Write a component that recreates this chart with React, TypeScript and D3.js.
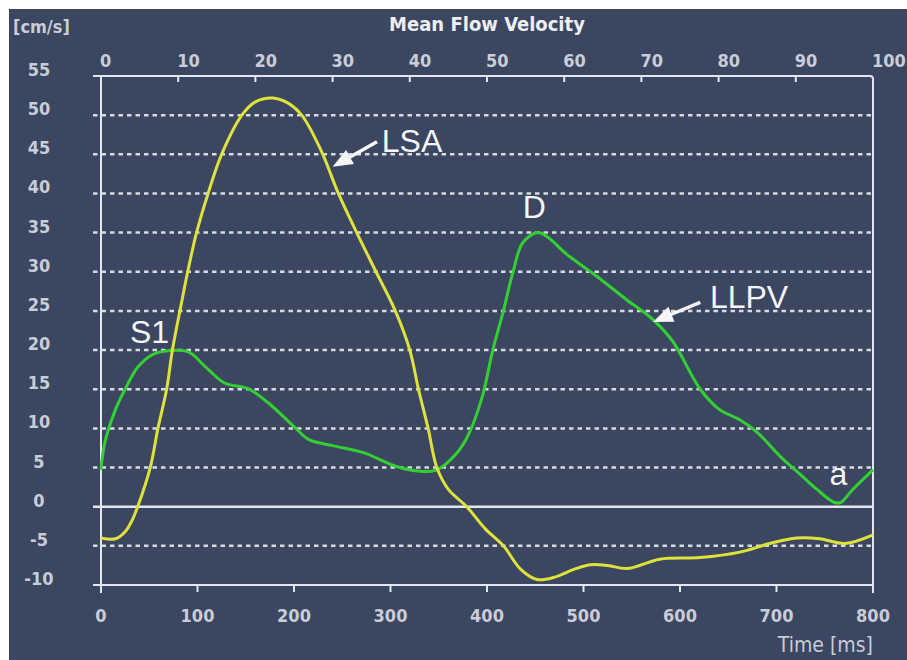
import React, { useEffect, useRef } from 'react';
import * as d3 from 'd3';

// tick values
const timeTicks = [0, 100, 200, 300, 400, 500, 600, 700, 800];
const cycleTicks = [0, 10, 20, 30, 40, 50, 60, 70, 80, 90, 100];
const velocityTicks = [-10, -5, 0, 5, 10, 15, 20, 25, 30, 35, 40, 45, 50, 55];

// LSA (yellow) - time [ms], velocity [cm/s]
const lsaTime = [0, 15, 25, 32, 38, 51, 59, 68, 74, 84, 89, 99, 111, 125, 146, 160, 178, 193, 208, 228, 246, 265, 285, 305, 320, 329, 339, 348, 360, 379, 398, 417, 435, 452, 470, 490, 507, 525, 545, 579, 621, 662, 693, 721, 745, 771, 800];
const lsaVelocity = [-4, -4.1, -3.2, -1.8, 0, 5, 10, 15, 20, 26.4, 29.5, 35, 40, 45, 50, 51.7, 52.2, 51.6, 50, 45.5, 40, 35, 30, 25, 20, 15, 10, 5, 2.2, 0, -2.8, -5, -8, -9.3, -9, -8, -7.4, -7.5, -7.9, -6.7, -6.5, -5.8, -4.7, -4, -4.1, -4.7, -3.6];

// LLPV (green)
const llpvTime = [0, 4, 15, 25, 38, 53, 63, 90, 108, 128, 152, 173, 201, 215, 240, 272, 307, 334, 348, 369, 380, 395, 406, 417, 427, 437, 452, 462, 483, 514, 545, 572, 592, 621, 641, 662, 680, 704, 724, 742, 759, 766, 779, 800];
const llpvVelocity = [4.7, 8.2, 12.4, 15, 17.8, 19.4, 19.8, 19.8, 17.9, 15.8, 15.1, 13.3, 10.1, 8.6, 7.8, 6.9, 5.1, 4.5, 4.7, 6.9, 9, 14, 20, 25, 30, 33.7, 35, 34.5, 32.2, 29.4, 26.4, 23.9, 21.2, 15, 12.4, 11.1, 9.5, 6.4, 4.2, 2.2, 0.6, 0.5, 2.2, 4.7];

// annotations placed in data units (time, velocity)
const labels = [
    { text: 'LSA', t: 291, v: 45.3, anchor: 'start' },
    { text: 'D', t: 449, v: 36.9, anchor: 'middle' },
    { text: 'S1', t: 30, v: 20.9, anchor: 'start' },
    { text: 'LLPV', t: 631, v: 25.4, anchor: 'start' },
    { text: 'a', t: 755, v: 2.8, anchor: 'start' }
];
const arrows = [
    { t0: 286, v0: 46.6, t1: 240, v1: 43.4 },
    { t0: 621, v0: 26.1, t1: 572, v1: 23.6 }
];

const width = 907;
const height = 660;
const plot = { left: 101, right: 873, top: 76, bottom: 585 };

const bg = '#3b4661';
const lineColor = '#e3e6ee';
const labelColor = '#c9cdd7';
const tickFont = '"DejaVu Sans Condensed", "Liberation Sans Narrow", sans-serif';

export default function App() {
    const svgRef = useRef(null);

    useEffect(() => {
        const svg = d3.select(svgRef.current);
        svg.selectAll('*').remove();

        const x = d3.scaleLinear().domain([0, 800]).range([plot.left, plot.right]);
        const xTop = d3.scaleLinear().domain([0, 100]).range([plot.left, plot.right]);
        const y = d3.scaleLinear().domain([-10, 55]).range([plot.bottom, plot.top]);

        svg.append('rect').attr('width', width).attr('height', height).attr('fill', '#fff');
        svg.append('rect').attr('x', 9).attr('y', 9).attr('width', width - 9).attr('height', height - 9).attr('fill', bg);

        // dotted gridlines
        svg.append('g').selectAll('line')
            .data(velocityTicks.filter((d) => d !== 0 && d !== -10 && d !== 55))
            .enter().append('line')
            .attr('x1', plot.left - 8).attr('x2', plot.right)
            .attr('y1', (d) => y(d)).attr('y2', (d) => y(d))
            .attr('stroke', '#d6dae3')
            .attr('stroke-width', 2.5)
            .attr('stroke-dasharray', '4.5 4');

        // zero line
        svg.append('line')
            .attr('x1', plot.left - 8).attr('x2', plot.right)
            .attr('y1', y(0)).attr('y2', y(0))
            .attr('stroke', lineColor).attr('stroke-width', 2.5);

        // frame
        const frame = svg.append('g').attr('stroke', lineColor).attr('stroke-width', 2).attr('fill', 'none');
        frame.append('path')
            .attr('d', `M${plot.left - 8},${plot.top} H${plot.right - 3} Q${plot.right},${plot.top} ${plot.right},${plot.top + 3} V${plot.bottom + 8}`);
        frame.append('line').attr('x1', plot.left - 8).attr('x2', plot.right).attr('y1', plot.bottom).attr('y2', plot.bottom);
        frame.append('line').attr('x1', plot.left).attr('x2', plot.left).attr('y1', plot.top).attr('y2', plot.bottom + 8);

        frame.selectAll('.ttick').data(cycleTicks.slice(1, -1)).enter().append('line')
            .attr('x1', (d) => xTop(d)).attr('x2', (d) => xTop(d))
            .attr('y1', plot.top).attr('y2', plot.top + 6);
        frame.selectAll('.btick').data(timeTicks.slice(1, -1)).enter().append('line')
            .attr('x1', (d) => x(d)).attr('x2', (d) => x(d))
            .attr('y1', plot.bottom).attr('y2', plot.bottom + 7);

        // curves
        const line = d3.line()
            .x((d) => x(d[0]))
            .y((d) => y(d[1]))
            .curve(d3.curveCatmullRom.alpha(0.5));

        svg.append('path')
            .attr('d', line(llpvTime.map((t, i) => [t, llpvVelocity[i]])))
            .attr('fill', 'none').attr('stroke', '#33cf33').attr('stroke-width', 3);
        svg.append('path')
            .attr('d', line(lsaTime.map((t, i) => [t, lsaVelocity[i]])))
            .attr('fill', 'none').attr('stroke', '#dfe23a').attr('stroke-width', 3);

        // tick labels
        const txt = svg.append('g').attr('fill', labelColor).attr('font-family', tickFont)
            .attr('font-size', 18).attr('font-weight', 'bold');
        txt.selectAll('.yl').data(velocityTicks).enter().append('text')
            .attr('x', 39).attr('y', (d) => y(d)).attr('text-anchor', 'middle')
            .text((d) => d);
        txt.selectAll('.bl').data(timeTicks).enter().append('text')
            .attr('x', (d) => x(d)).attr('y', 622).attr('text-anchor', 'middle')
            .text((d) => d);
        txt.selectAll('.tl').data(cycleTicks).enter().append('text')
            .attr('x', (d) => xTop(d) - 1).attr('y', 67).attr('text-anchor', 'start')
            .text((d) => d);
        txt.append('text').attr('x', 13).attr('y', 33).text('[cm/s]');
        txt.append('text').attr('x', plot.right).attr('y', 652).attr('text-anchor', 'end')
            .attr('font-weight', 'normal').attr('font-size', 21).text('Time [ms]');

        svg.append('text')
            .attr('x', 487).attr('y', 31).attr('text-anchor', 'middle')
            .attr('font-family', tickFont).attr('font-weight', 'bold').attr('font-size', 20)
            .attr('fill', '#eceef3').text('Mean Flow Velocity');

        // annotations
        svg.append('g').selectAll('text').data(labels).enter().append('text')
            .attr('x', (d) => x(d.t)).attr('y', (d) => y(d.v))
            .attr('text-anchor', (d) => d.anchor)
            .attr('font-family', '"Liberation Sans", Arial, sans-serif')
            .attr('font-size', 32).attr('fill', '#f5f5f7')
            .text((d) => d.text);

        arrows.forEach((a) => {
            const x0 = x(a.t0), y0 = y(a.v0), x1 = x(a.t1), y1 = y(a.v1);
            const len = Math.hypot(x1 - x0, y1 - y0);
            const ux = (x1 - x0) / len, uy = (y1 - y0) / len;
            const nx = -uy, ny = ux;
            const head = 20, half = 8;
            const bx = x1 - ux * head, by = y1 - uy * head;
            svg.append('line')
                .attr('x1', x0).attr('y1', y0).attr('x2', bx + ux * 2).attr('y2', by + uy * 2)
                .attr('stroke', '#f5f5f7').attr('stroke-width', 3.5);
            svg.append('path')
                .attr('d', `M${x1},${y1} L${bx + nx * half},${by + ny * half} L${bx - nx * half},${by - ny * half} Z`)
                .attr('fill', '#f5f5f7');
        });
    }, []);

    return (
        <div style={{ position: 'absolute', left: 0, top: 0 }}>
            <svg ref={svgRef} width={width} height={height} style={{ display: 'block' }} />
        </div>
    );
}
